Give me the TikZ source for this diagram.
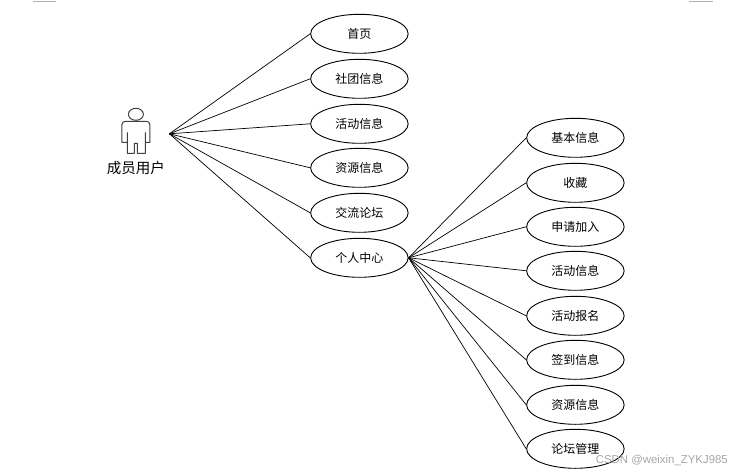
\documentclass[tikz,border=0pt]{standalone}
\usepackage{fontspec}
\setmainfont{Noto Sans CJK SC}
\usetikzlibrary{shapes.geometric}
\tikzset{
  usecase/.style={draw=black,line width=0.9pt,fill=white,ellipse,minimum width=97.5pt,minimum height=39pt,inner sep=0pt,font=\fontsize{12}{14}\selectfont},
  link/.style={draw=black,line width=0.7pt},
  actorline/.style={draw=black!75,line width=1pt,line join=round}
}
\begin{document}
\begin{tikzpicture}[x=1pt,y=-1pt]
\useasboundingbox[fill=white] (0,0) rectangle (749,473);
\draw[gray!60,line width=0.6pt] (33,1.5)--(56,1.5) (689,1.5)--(713,1.5);
\begin{scope}[shift={(-0.6,0.8)}]
\coordinate (hubA) at (170,133);
% left use cases
\node[usecase] (home) at (360,33) {首页};
\node[usecase] (club) at (360,78) {社团信息};
\node[usecase] (act) at (360,123) {活动信息};
\node[usecase] (res) at (360,167) {资源信息};
\node[usecase] (forum) at (360,212) {交流论坛};
\node[usecase] (me) at (360,257) {个人中心};
% right use cases
\node[usecase] (basic) at (576,137) {基本信息};
\node[usecase] (fav) at (576,182) {收藏};
\node[usecase] (apply) at (576,226) {申请加入};
\node[usecase] (ract) at (576,270) {活动信息};
\node[usecase] (sign) at (576,315) {活动报名};
\node[usecase] (check) at (576,359) {签到信息};
\node[usecase] (rres) at (576,404) {资源信息};
\node[usecase] (manage) at (576,448) {论坛管理};
% connectors
\foreach \t in {home,club,act,res,forum,me}
  \draw[link] (hubA) -- (\t.west);
\foreach \t in {basic,fav,apply,ract,sign,check,rres,manage}
  \draw[link] (me.east) -- (\t.west);
% actor
\draw[actorline] (136.5,113.5) ellipse [x radius=7.5,y radius=6];
\draw[actorline] (128,140.5) -- (128,131.5)
  (128,140.5) -- (128,152.5) -- (135,152.5) -- (135,142.5) -- (138,142.5) -- (138,152.5) -- (146,152.5) -- (146,131.5)
  (128,141.5) -- (122.5,141.5) -- (122.5,124) .. controls (122.5,122) and (124,120.5) .. (126,120.5)
  -- (147,120.5) .. controls (149,120.5) and (150.5,122) .. (150.5,124) -- (150.5,141.5) -- (146,141.5);
\node[font=\fontsize{14.5}{16}\selectfont,inner sep=0pt] (actor) at (136.5,167) {成员用户};
\end{scope}
\node[font=\fontsize{11.4}{13}\selectfont,text=black!35,inner sep=0pt,anchor=east] (wm) at (728,460) {\fontspec{Liberation Sans}CSDN @weixin\_ZYKJ985};
\end{tikzpicture}
\end{document}
